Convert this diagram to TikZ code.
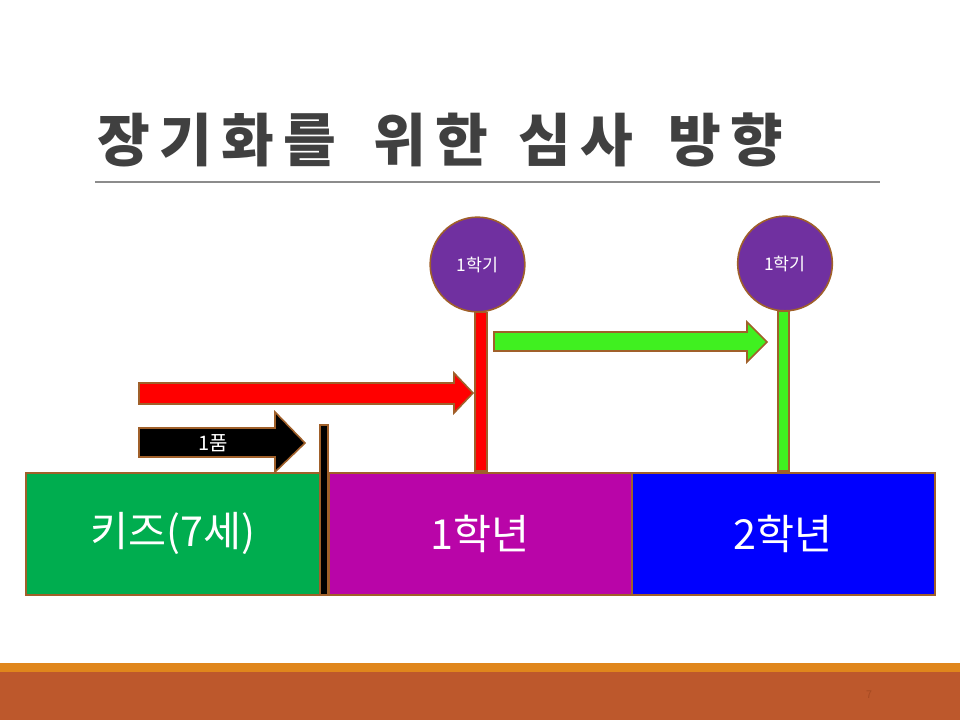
\documentclass[tikz,border=0pt]{standalone}
\usepackage{fontspec}
\newfontfamily\kr{Noto Sans CJK KR}
\newfontfamily\krtitle[LetterSpace=16]{Noto Sans CJK KR}
\definecolor{edge}{HTML}{A0602A}
\definecolor{kgreen}{HTML}{00AD4F}
\definecolor{kmag}{HTML}{B905A8}
\definecolor{kblue}{HTML}{0000FF}
\definecolor{kpurple}{HTML}{7030A0}
\definecolor{lgreen}{HTML}{40F020}
\definecolor{titlegray}{HTML}{404040}
\definecolor{bandorange}{HTML}{E0861C}
\definecolor{bandrust}{HTML}{BD582C}
\definecolor{pagenum}{HTML}{A54A22}
\tikzset{
  grade/.style={draw=edge, line width=1.2pt, text=white, font=\kr\fontsize{31}{35}\selectfont},
  term/.style={circle, draw=edge, line width=1.2pt, fill=kpurple, text=white, minimum size=71pt, inner sep=0pt, font=\kr\fontsize{13}{15}\selectfont},
  pole/.style={draw=edge, line width=1.2pt},
  titleword/.style={anchor=west, text=titlegray, inner sep=0pt, font=\krtitle\bfseries\fontsize{43}{50}\selectfont},
  fatarrow/.style={draw=edge, line width=1.2pt}
}
\begin{document}
\begin{tikzpicture}[x=0.75pt,y=-0.75pt]
\useasboundingbox (0,0) rectangle (960,720);
% title
\node[titleword] (t1) at (97,140) {장기화를};
\node[titleword] (t2) at (373,140) {위한};
\node[titleword] (t3) at (518,140) {심사};
\node[titleword] (t4) at (668,140) {방향};
\draw[gray!90, line width=0.8pt] (95,182) -- (880,182);
% grade boxes
\node[grade, fill=kgreen, minimum width=221.25pt, minimum height=91.5pt, anchor=north west] (kids) at (25,472) {키즈(7세)};
\node[grade, fill=kmag, minimum width=227.25pt, minimum height=91.5pt, anchor=north west] (g1) at (328,472) {1학년};
\node[grade, fill=kblue, minimum width=227.25pt, minimum height=91.5pt, anchor=north west] (g2) at (631,472) {2학년};
% black bar
\node[pole, fill=black, minimum width=6pt, minimum height=127.5pt, inner sep=0pt, anchor=north west] (bbar) at (319,424) {};
% poles
\node[pole, fill=red, minimum width=9pt, minimum height=119pt, inner sep=0pt, anchor=south west] (rbar) at (474,472) {};
\node[pole, fill=lgreen, minimum width=8.25pt, minimum height=120pt, inner sep=0pt, anchor=south west] (gbar) at (777,472) {};
% circles
\node[term] (c1) at (477.5,264.5) {1학기};
\node[term] (c2) at (785,263.5) {1학기};
% black arrow
\draw[fatarrow, fill=black] (139,428) -- (275,428) -- (275,412) -- (305,443) -- (275,472) -- (275,457) -- (139,457) -- cycle;
\node[text=white, font=\kr\fontsize{15}{17}\selectfont, inner sep=0pt] (pum) at (213,443) {1품};
% red arrow
\draw[fatarrow, fill=red] (139,383) -- (454,383) -- (454,373) -- (473,393) -- (454,413) -- (454,404) -- (139,404) -- cycle;
% green arrow
\draw[fatarrow, fill=lgreen] (494,332) -- (747,332) -- (747,322) -- (767,342) -- (747,362) -- (747,351) -- (494,351) -- cycle;
% bottom bands
\fill[bandorange] (0,663) rectangle (960,672);
\fill[bandrust] (0,672) rectangle (960,720);
\node[text=pagenum, font=\kr\fontsize{8}{10}\selectfont, inner sep=0pt] (pg) at (869,695) {7};
\end{tikzpicture}
\end{document}
